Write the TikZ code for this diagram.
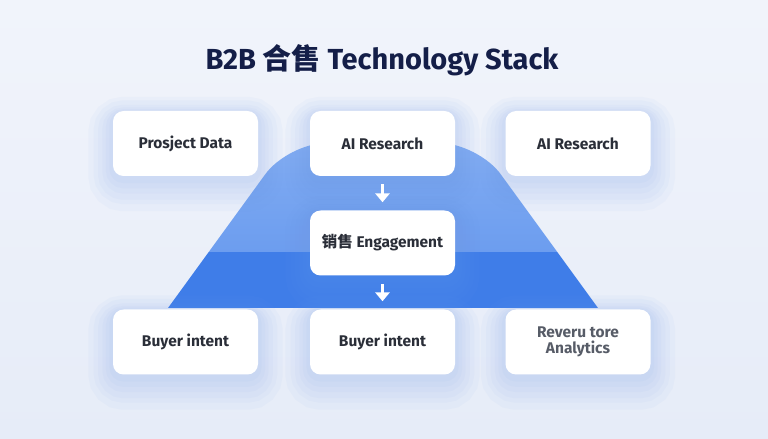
\documentclass[tikz,border=0pt]{standalone}
\usepackage{fontspec}
\setmainfont{Fira Sans}
\newfontfamily\cjk{Noto Sans CJK SC}
\usetikzlibrary{positioning,arrows.meta}
\definecolor{bgtop}{HTML}{F1F4FB}
\definecolor{bgbot}{HTML}{E6ECF8}
\definecolor{navy}{HTML}{141E48}
\definecolor{ink}{HTML}{2A2E38}
\definecolor{soft}{HTML}{575C67}
\definecolor{lightblue}{HTML}{6C9DEF}
\definecolor{toplight}{HTML}{82ACF2}
\definecolor{deepblue}{HTML}{3F7DE8}
\definecolor{glow}{HTML}{6F9BEA}

\begin{document}
\begin{tikzpicture}[
    halo/.style 2 args={preaction={draw=glow,draw opacity=0.045,line width=#1,transform canvas={yshift=#2}}},
    card/.style={draw=none,fill=white,rounded corners=6pt,minimum width=2.9cm,minimum height=1.3cm,
      align=center,text=ink,font=\fontsize{8.8}{9}\selectfont\bfseries,
      halo={28pt}{-6pt},halo={22pt}{-5pt},halo={17pt}{-5pt},halo={12pt}{-4pt},halo={8pt}{-3pt},halo={4pt}{-2pt}},
    flow/.style={white,line width=1.9pt,-{Triangle[length=5pt,width=8pt]},shorten <=4.5pt,shorten >=4.5pt}]
  \shade[top color=bgtop,bottom color=bgbot] (0,0) rectangle (15.36,8.78);
  \useasboundingbox (0,0) rectangle (15.36,8.78);
  % funnel behind the cards
  \begin{scope}
    \clip (3.36,2.62) [rounded corners=22pt] -- (5.76,5.92) -- (9.56,5.92) [sharp corners] -- (11.96,2.62) -- cycle;
    \shade[top color=toplight,bottom color=lightblue] (3,3.74) rectangle (12.4,6);
    \fill[deepblue] (3,2.5) rectangle (12.4,3.74);
  \end{scope}
  \node[font=\fontsize{16.5}{18}\selectfont\bfseries,text=navy] (title) at (7.64,7.58) {B2B {\cjk 合售} Technology Stack};
  \node[card] (prospect) at (3.71,5.91) {Prosject Data};
  \node[card] (aimid) at (7.65,5.91) {AI Research};
  \node[card] (airight) at (11.56,5.91) {AI Research};
  \node[card] (engage) at (7.65,3.92) {{\cjk 销售} Engagement};
  \node[card] (buyerl) at (3.71,1.94) {Buyer intent};
  \node[card] (buyerm) at (7.65,1.94) {Buyer intent};
  \node[card,text=soft] (revenue) at (11.56,1.94) {Reveru tore\\Analytics};
  \draw[flow] (aimid) -- (engage);
  \draw[flow] (engage) -- (buyerm);
\end{tikzpicture}
\end{document}
